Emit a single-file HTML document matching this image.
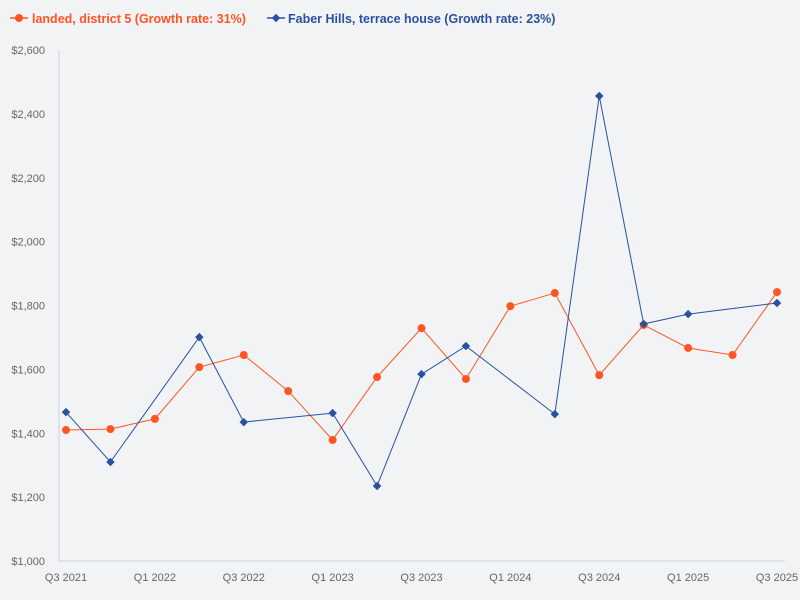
<!DOCTYPE html>
<html><head><meta charset="utf-8"><style>
body{margin:0;background:#f2f3f5;font-family:"Liberation Sans",sans-serif;}
svg{display:block}
</style></head><body>
<svg id="chart" width="800" height="600">
<rect width="800" height="600" fill="#f2f3f5"/>
<g>
 <g>
  <line x1="10" y1="18" x2="28" y2="18" stroke="#ff5522" stroke-width="1.5"/>
  <circle cx="19" cy="18" r="4" fill="#ff5522"/>
  <text x="32" y="23" font-size="12.5" font-weight="bold" fill="#ff5522">landed, district 5 (Growth rate: 31%)</text>
 </g>
 <g>
  <line x1="267" y1="18" x2="285" y2="18" stroke="#2a50a0" stroke-width="1.5"/>
  <rect x="273" y="15" width="6" height="6" transform="rotate(45 276 18)" fill="#2a50a0"/>
  <text x="288" y="23" font-size="12.5" font-weight="bold" fill="#2a50a0">Faber Hills, terrace house (Growth rate: 23%)</text>
 </g>
</g>
<g id="axes"></g>
<g id="series"></g>
</svg>
<script>
const categories=["Q3 2021","Q4 2021","Q1 2022","Q2 2022","Q3 2022","Q4 2022","Q1 2023","Q2 2023","Q3 2023","Q4 2023","Q1 2024","Q2 2024","Q3 2024","Q4 2024","Q1 2025","Q2 2025","Q3 2025"];
const landedValues=[1410,1413,1445,1607,1645,1532,1379,1576,1729,1570,1798,1839,1582,1739,1667,1645,1842];
const faberValues=[1466,1310,null,1701,1435,null,1463,1235,1585,1673,null,1460,2456,1742,1773,null,1808];
const yTicks=[1000,1200,1400,1600,1800,2000,2200,2400,2600];
const xTickIdx=[0,2,4,6,8,10,12,14,16];
const NS="http://www.w3.org/2000/svg";
const x0=66,x1=777,yb=561,yt=50,ymin=1000,ymax=2600;
function xs(i){return x0+(x1-x0)*i/(categories.length-1);}
function ys(v){return yb-(v-ymin)/(ymax-ymin)*(yb-yt);}
function mk(tag,attrs,parent){const e=document.createElementNS(NS,tag);for(const k in attrs)e.setAttribute(k,attrs[k]);parent.appendChild(e);return e;}
const ax=document.getElementById('axes');
const yl=mk('line',{x1:59,y1:yt,x2:59,y2:yb,stroke:'#c8d2e6'},ax);


const xl=mk('line',{x1:59,y1:yb,x2:785,y2:yb,stroke:'#c8d2e6'},ax);


yTicks.forEach(v=>{
 const t=mk('text',{x:45,y:ys(v)+4,'font-size':11,fill:'#666','text-anchor':'end'},ax);
 t.textContent='$'+v.toLocaleString('en-US');
 
 
});
xTickIdx.forEach(i=>{
 const t=mk('text',{x:xs(i),y:581,'font-size':11,fill:'#666','text-anchor':'middle'},ax);
 t.textContent=categories[i];
 
 
});
const sg=document.getElementById('series');
function draw(vals,color,shape,name){
 const pts=[];vals.forEach((v,i)=>{if(v!=null)pts.push([xs(i),ys(v)]);});
 const p=mk('polyline',{points:pts.map(p=>p.join(',')).join(' '),fill:'none',stroke:color,'stroke-width':1},sg);
 
 
 pts.forEach(([x,y])=>{
  let m;
  if(shape==='c')m=mk('circle',{cx:x,cy:y,r:4,fill:color},sg);
  else m=mk('rect',{x:x-3,y:y-3,width:6,height:6,fill:color,transform:`rotate(45 ${x} ${y})`},sg);
  
  
 });
}
draw(landedValues,'#ff5522','c','landed-district-5');
draw(faberValues,'#2a50a0','d','faber-hills');
</script>
</body></html>
